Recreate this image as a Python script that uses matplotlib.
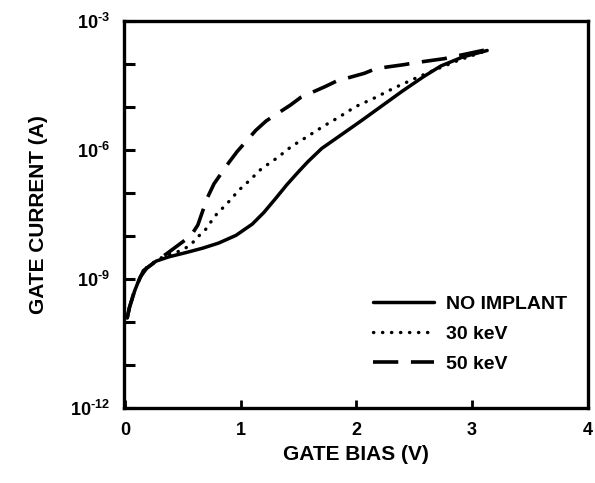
import matplotlib
matplotlib.use("Agg")
import matplotlib.pyplot as plt
import numpy as np

plt.rcParams['font.family'] = ['Liberation Sans', 'DejaVu Sans']
plt.rcParams['font.weight'] = 'bold'
plt.rcParams['mathtext.fontset'] = 'custom'
plt.rcParams['mathtext.rm'] = 'Liberation Sans:bold'
plt.rcParams['mathtext.bf'] = 'Liberation Sans:bold'
plt.rcParams['mathtext.default'] = 'bf'

# gate bias (V) and log10 of gate current (A)
bias_none = [0.02, 0.04, 0.086, 0.13, 0.19, 0.27, 0.38, 0.53, 0.67, 0.81, 0.96, 1.10,
             1.20, 1.30, 1.40, 1.50, 1.58, 1.70, 1.87, 2.05, 2.23, 2.40, 2.58, 2.73,
             2.92, 3.13]
logi_none = [-9.9, -9.65, -9.26, -8.96, -8.74, -8.58, -8.48, -8.38, -8.28, -8.16, -7.98,
             -7.72, -7.45, -7.13, -6.80, -6.50, -6.27, -5.96, -5.64, -5.30, -4.95, -4.62,
             -4.29, -4.04, -3.83, -3.68]

bias_30 = [0.02, 0.04, 0.086, 0.13, 0.19, 0.29, 0.38, 0.49, 0.57, 0.62, 0.69, 0.75, 0.80,
           0.87, 0.93, 0.98, 1.05, 1.12, 1.18, 1.25, 1.33, 1.40, 1.47, 1.56, 1.71, 1.85,
           1.99, 2.16, 2.32, 2.49, 2.67, 2.89, 3.13]
logi_30 = [-9.9, -9.65, -9.26, -8.95, -8.72, -8.53, -8.43, -8.33, -8.20, -8.04, -7.87,
           -7.64, -7.46, -7.28, -7.10, -6.94, -6.77, -6.59, -6.43, -6.30, -6.15, -5.99,
           -5.86, -5.71, -5.45, -5.23, -4.99, -4.78, -4.56, -4.35, -4.14, -3.90, -3.68]

bias_50 = [0.02, 0.04, 0.086, 0.16, 0.29, 0.36, 0.57, 0.63, 0.71, 0.77, 0.90, 0.97,
           1.13, 1.22, 1.43, 1.52, 1.73, 1.83, 2.07, 2.17, 2.41, 2.52, 2.76, 3.16]
logi_50 = [-9.9, -9.65, -9.24, -8.80, -8.54, -8.41, -7.99, -7.74, -7.12, -6.78, -6.28,
           -6.03, -5.54, -5.32, -4.95, -4.77, -4.52, -4.39, -4.21, -4.10, -4.01, -3.96,
           -3.87, -3.64]

labels = ["NO IMPLANT", "30 keV", "50 keV"]
xticks = [0, 1, 2, 3, 4]
ydecades = [-12, -9, -6, -3]

fig = plt.figure(figsize=(5.95, 4.83), dpi=100)
ax = fig.add_axes([0.208, 0.155, 0.78, 0.801])

ax.plot(bias_none, 10 ** np.array(logi_none), color='black', lw=2.5,
        solid_capstyle='round', solid_joinstyle='round', label=labels[0])
ax.plot(bias_30, 10 ** np.array(logi_30), color='black', lw=2.4,
        dashes=(0.1, 2.6), dash_capstyle='round', label=labels[1])
ax.plot(bias_50, 10 ** np.array(logi_50), color='black', lw=2.6,
        dashes=(7, 3.5), dash_joinstyle='round', label=labels[2])

ax.set_yscale('log')
ax.set_ylim(1e-12, 1e-3)
ax.set_xlim(-0.01, 4.0)

ax.set_xticks(xticks)
ax.set_xticklabels([str(t) for t in xticks], fontsize=13, fontweight='bold')
ax.set_yticks([10.0 ** d for d in ydecades])
ax.set_yticklabels([r'$10^{\text{-%d}}$' % (-d) for d in ydecades], fontsize=13)
ax.set_yticks([10.0 ** d for d in range(-12, -2)], minor=True)
ax.yaxis.set_minor_formatter(matplotlib.ticker.NullFormatter())

ax.tick_params(axis='y', which='both', direction='in', length=8, width=2.2, pad=10)
ax.tick_params(axis='x', which='major', direction='in', length=6, width=2, pad=10)
for s in ax.spines.values():
    s.set_linewidth(2.4)

ax.set_xlabel("GATE BIAS (V)", fontsize=15, fontweight='bold', labelpad=4)
ax.set_ylabel("GATE CURRENT (A)", fontsize=15, fontweight='bold', labelpad=16)

ax.legend(loc='lower left', bbox_to_anchor=(0.5, 0.045), frameon=False,
          handlelength=3.1, handletextpad=0.65, labelspacing=0.65,
          prop={'weight': 'bold', 'size': 14})

fig.savefig("out.png", dpi=100)
